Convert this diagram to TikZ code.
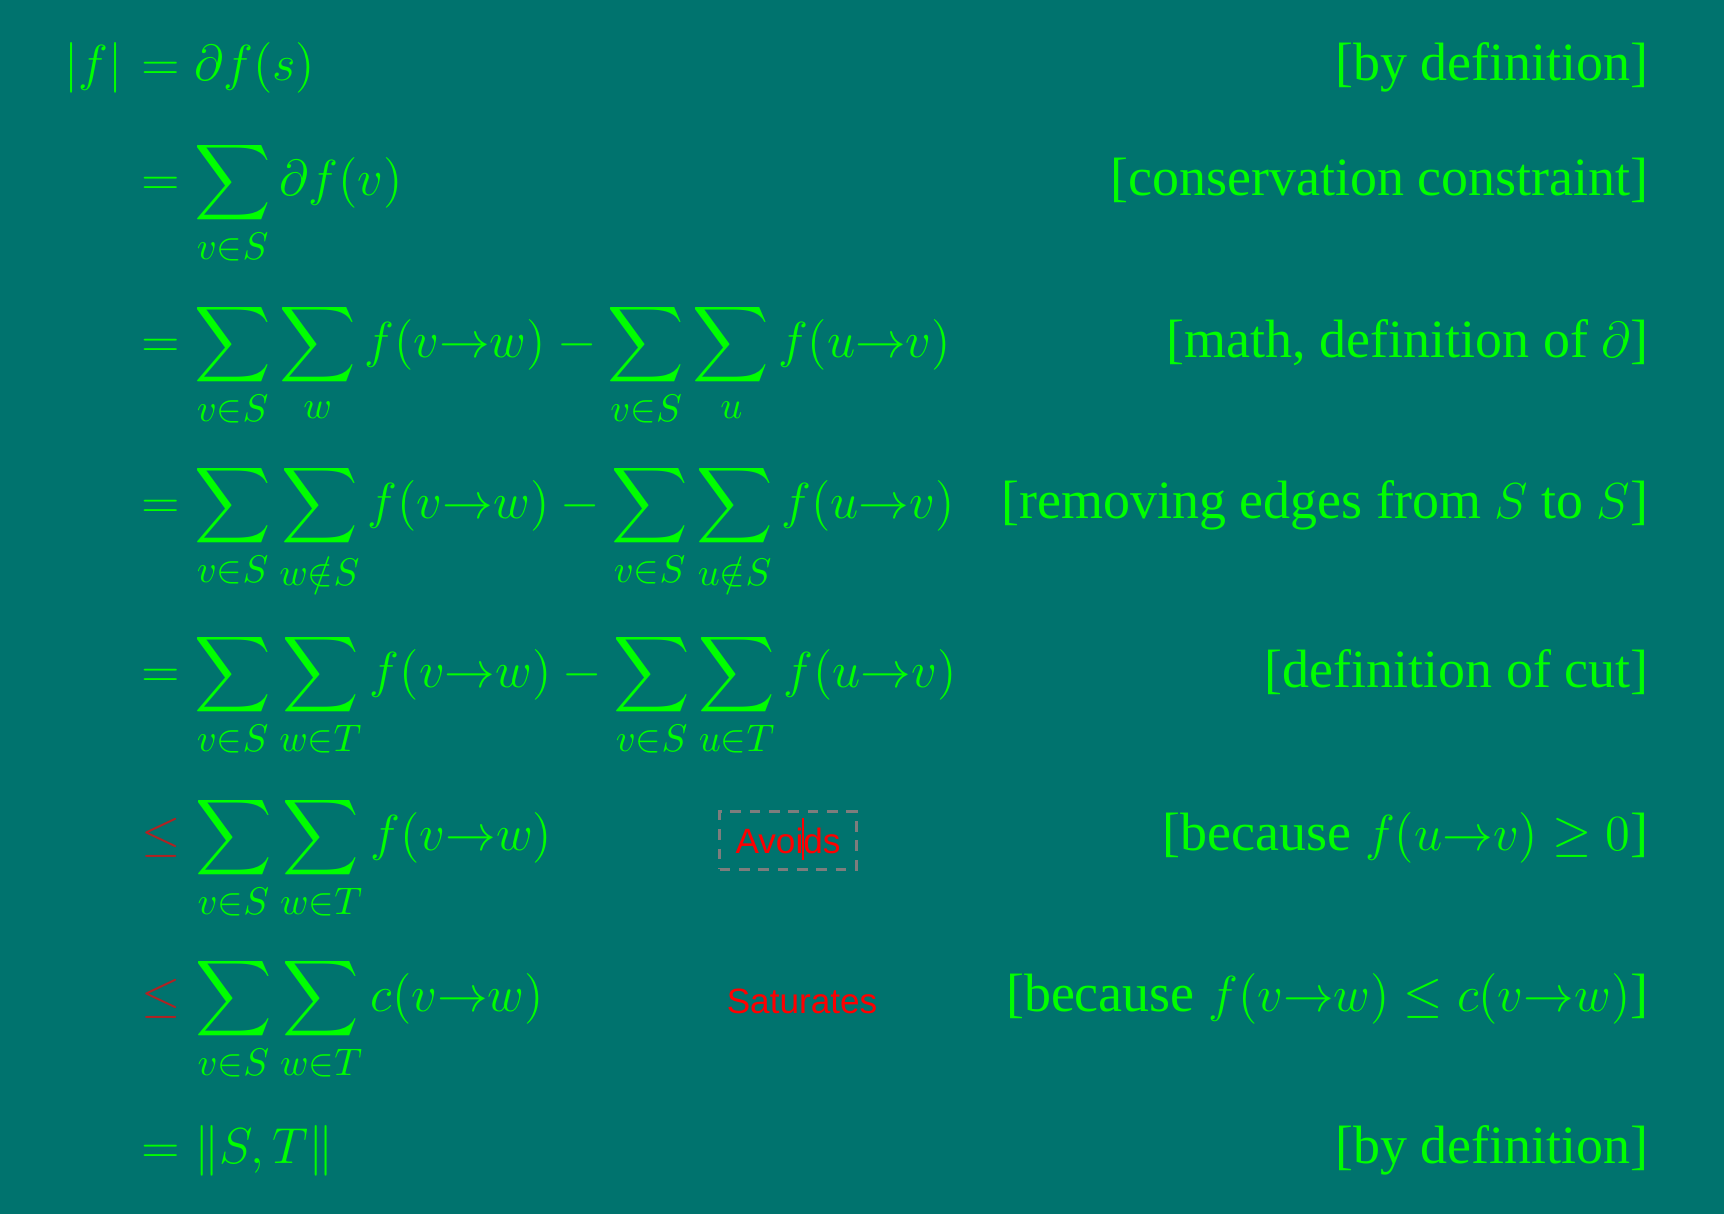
\documentclass[tikz,border=0pt]{standalone}
\usepackage{amsfonts,amssymb,amsmath}
\usepackage{fontspec}
\setmainfont{Liberation Serif}
\setsansfont{Liberation Sans}
\usepackage{tikz}
\definecolor{bgteal}{RGB}{0,115,110}
\definecolor{eqgreen}{RGB}{0,255,0}
\definecolor{relred}{RGB}{178,34,34}
\definecolor{notered}{RGB}{255,0,0}
\definecolor{boxgray}{RGB}{125,125,125}
\newcommand{\edgeto}{\mathord{\to}}
\tikzset{
  eq/.style={text=eqgreen, inner sep=0pt, font=\fontsize{15.1}{18}\selectfont},
  why/.style={text=eqgreen, inner sep=0pt, anchor=base east, font=\fontsize{15.35}{18}\selectfont},
  note/.style={text=notered, font=\sffamily\fontsize{10}{12}\selectfont}
}

\begin{document}
\begin{tikzpicture}[x=0.1mm, y=-0.1mm]
  \fill[bgteal] (0,0) rectangle (1724,1214);
  \useasboundingbox (0,0) rectangle (1724,1214);
  \foreach \row/\yy/\rel/\rhs/\why in {
    1/80/{=}/{\partial f(s)}/{[by definition]},
    2/195/{=}/{\sum_{v\in S}\partial f(v)}/{[conservation constraint]},
    3/357/{=}/{\sum_{v\in S}\sum_{w} f(v\edgeto w) - \sum_{v\in S}\sum_{u} f(u\edgeto v)}/{[math, definition of $\partial$]},
    4/518/{=}/{\sum_{v\in S}\sum_{w\notin S} f(v\edgeto w) - \sum_{v\in S}\sum_{u\notin S} f(u\edgeto v)}/{[removing edges from $S$ to $S$]},
    5/687/{=}/{\sum_{v\in S}\sum_{w\in T} f(v\edgeto w) - \sum_{v\in S}\sum_{u\in T} f(u\edgeto v)}/{[definition of cut]},
    6/850/{\mathrel{\textcolor{relred}{\leq}}}/{\sum_{v\in S}\sum_{w\in T} f(v\edgeto w)}/{[because $f(u\edgeto v)\geq 0$]},
    7/1011/{\mathrel{\textcolor{relred}{\leq}}}/{\sum_{v\in S}\sum_{w\in T} c(v\edgeto w)}/{[because $f(v\edgeto w)\leq c(v\edgeto w)$]},
    8/1163/{=}/{\|S,T\|}/{[by definition]}
  } {
    \node[eq, anchor=base west] (eq\row) at (141,\yy) {$\displaystyle\rel\rhs$};
    \node[why] (why\row) at (1649,\yy) {\why};
  }
  \node[eq, anchor=base east] (lhs) at ([xshift=-5pt]eq1.base west) {$|f|$};
  % notes in the middle
  \node[note, draw=boxgray, dash pattern=on 3pt off 2.5pt, line width=0.9pt,
    inner sep=4.5pt, anchor=base] (avoids) at (788,853) {Avoids};
  \draw[notered, line width=0.5pt] (803,818) -- (803,860);
  \node[note, anchor=base] (saturates) at (802,1013) {Saturates};
\end{tikzpicture}
\end{document}
